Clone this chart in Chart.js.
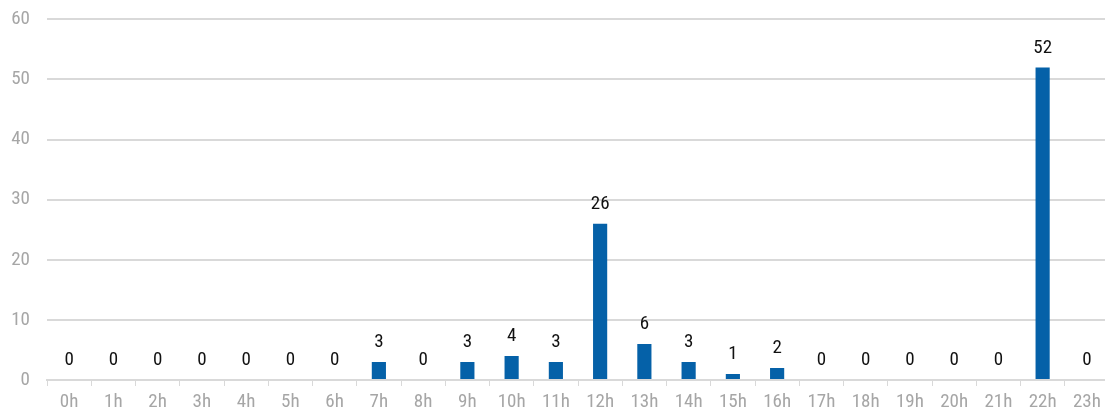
<!DOCTYPE html>
<html>
<head>
<meta charset="utf-8">
<script src="https://cdn.jsdelivr.net/npm/chart.js@4"></script>
<style>
  html, body { margin: 0; padding: 0; background: #fff; overflow: hidden; }
  #wrap { width: 1109px; height: 414px; position: relative; }
</style>
</head>
<body>
<div id="wrap"><canvas id="hourChart"></canvas></div>
<script>
// hourly counts
const hours = ['0h','1h','2h','3h','4h','5h','6h','7h','8h','9h','10h','11h','12h','13h','14h','15h','16h','17h','18h','19h','20h','21h','22h','23h'];
const counts = [0, 0, 0, 0, 0, 0, 0, 3, 0, 3, 4, 3, 26, 6, 3, 1, 2, 0, 0, 0, 0, 0, 52, 0];
const yTicks = [0, 10, 20, 30, 40, 50, 60];

const FONT = '"Liberation Sans Narrow", "Roboto Condensed", "Arial Narrow", sans-serif';

/* value labels above every bar (no datalabels plugin offline) */
const barLabels = {
  id: 'barLabels',
  afterDatasetsDraw(chart) {
    const ctx = chart.ctx;
    const meta = chart.getDatasetMeta(0);
    ctx.save();
    ctx.font = '19px ' + FONT;
    ctx.fillStyle = '#111';
    ctx.textAlign = 'center';
    ctx.textBaseline = 'bottom';
    meta.data.forEach((bar, i) => {
      ctx.fillText(String(counts[i]), bar.x, bar.y - 10);
    });
    ctx.restore();
  }
};

new Chart(document.getElementById('hourChart'), {
  type: 'bar',
  data: {
    labels: hours,
    datasets: [{
      data: counts,
      backgroundColor: '#0561a8',
      barPercentage: 0.32,
      categoryPercentage: 1.0,
    }],
  },
  options: {
    responsive: true,
    maintainAspectRatio: false,
    animation: false,
    layout: { padding: { top: 0, right: 0, left: 0, bottom: 0 } },
    plugins: { legend: { display: false }, tooltip: { enabled: false } },
    scales: {
      x: {
        grid: { display: true, drawOnChartArea: false, color: '#d9d9d9', tickLength: 6, offset: true },
        border: { color: '#d9d9d9', width: 2 },
        ticks: { color: '#a6a6a6', font: { family: FONT, size: 19 }, padding: 5, maxRotation: 0, autoSkip: false },
        afterFit: (scale) => { scale.height = 34; },
      },
      y: {
        min: 0,
        max: 60,
        afterBuildTicks: (axis) => { axis.ticks = yTicks.map((v) => ({ value: v })); },
        grid: { color: '#d9d9d9', lineWidth: 2, tickLength: 9, tickColor: 'rgba(0,0,0,0)' },
        border: { display: false },
        ticks: { color: '#a6a6a6', font: { family: FONT, size: 19 }, padding: 8 },
        afterFit: (scale) => { scale.width = 47; },
      },
    },
  },
  plugins: [barLabels],
});
</script>
</body>
</html>
